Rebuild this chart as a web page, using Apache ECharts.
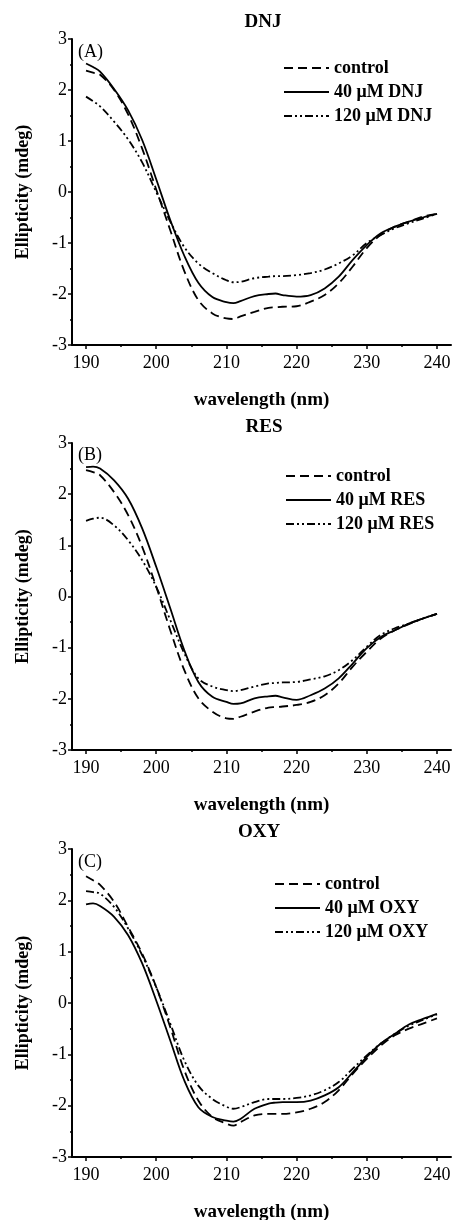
<!DOCTYPE html>
<html>
<head>
<meta charset="utf-8">
<script src="https://cdn.jsdelivr.net/npm/echarts@6/dist/echarts.min.js"></script>
<style>
html,body{margin:0;padding:0;background:#fff;}
#chart{width:452px;height:1220px;}
</style>
</head>
<body>
<div id="chart"></div>
<script>
// ---------- data ----------
const wavelength = [190,191,192,194,196,198,200,202,204,206,208,210,211,212,214,216,217,218,220,222,224,226,228,230,232,234,236,238,240];

const panelTitles = ['DNJ', 'RES', 'OXY'];
const panelLetters = ['(A)', '(B)', '(C)'];
const seriesNamesA = ['control', '40 \u03bcM DNJ', '120 \u03bcM DNJ'];
const seriesNamesB = ['control', '40 \u03bcM RES', '120 \u03bcM RES'];
const seriesNamesC = ['control', '40 \u03bcM OXY', '120 \u03bcM OXY'];

const xTickValues = [190,200,210,220,230,240];
const xMinorTickValues = [195,205,215,225,235];

// Panel A (DNJ)
const dnjControl = [2.38,2.34,2.30,2.00,1.52,0.85,0.05,-0.75,-1.55,-2.12,-2.38,-2.48,-2.49,-2.44,-2.35,-2.27,-2.26,-2.25,-2.24,-2.15,-2.02,-1.79,-1.46,-1.10,-0.84,-0.68,-0.58,-0.48,-0.43];
const dnj40 = [2.52,2.45,2.36,2.02,1.60,1.02,0.25,-0.55,-1.25,-1.78,-2.06,-2.16,-2.18,-2.14,-2.04,-2.00,-1.99,-2.02,-2.05,-2.02,-1.89,-1.66,-1.33,-1.04,-0.81,-0.68,-0.58,-0.50,-0.43];
const dnj120 = [1.87,1.78,1.68,1.38,1.03,0.58,0.00,-0.58,-1.08,-1.40,-1.59,-1.73,-1.77,-1.76,-1.69,-1.66,-1.65,-1.65,-1.63,-1.59,-1.52,-1.40,-1.24,-1.00,-0.84,-0.71,-0.61,-0.52,-0.43];

// Panel B (RES)
const resControl = [2.47,2.43,2.37,2.04,1.59,0.97,0.19,-0.66,-1.44,-1.99,-2.25,-2.38,-2.39,-2.35,-2.25,-2.17,-2.16,-2.15,-2.12,-2.06,-1.93,-1.70,-1.37,-1.08,-0.82,-0.66,-0.54,-0.43,-0.34];
const res40 = [2.53,2.54,2.50,2.27,1.91,1.33,0.58,-0.23,-1.05,-1.67,-1.96,-2.06,-2.10,-2.09,-1.99,-1.95,-1.94,-1.97,-2.02,-1.93,-1.80,-1.60,-1.31,-1.01,-0.79,-0.66,-0.53,-0.43,-0.34];
const res120 = [1.48,1.52,1.54,1.39,1.10,0.71,0.19,-0.46,-1.11,-1.60,-1.76,-1.83,-1.85,-1.83,-1.76,-1.70,-1.69,-1.68,-1.67,-1.62,-1.56,-1.44,-1.24,-0.98,-0.75,-0.62,-0.53,-0.43,-0.34];

// Panel C (OXY)
const oxyControl = [2.47,2.39,2.30,1.97,1.48,0.96,0.31,-0.47,-1.31,-1.90,-2.22,-2.35,-2.39,-2.32,-2.19,-2.16,-2.16,-2.16,-2.13,-2.06,-1.93,-1.70,-1.38,-1.09,-0.83,-0.63,-0.50,-0.40,-0.30];
const oxy40 = [1.92,1.94,1.89,1.68,1.32,0.77,0.05,-0.73,-1.51,-2.03,-2.22,-2.29,-2.31,-2.26,-2.06,-1.96,-1.94,-1.93,-1.93,-1.90,-1.80,-1.64,-1.35,-1.05,-0.79,-0.60,-0.42,-0.31,-0.21];
const oxy120 = [2.18,2.16,2.13,1.87,1.45,0.93,0.31,-0.40,-1.12,-1.61,-1.87,-2.02,-2.06,-2.03,-1.93,-1.87,-1.87,-1.87,-1.85,-1.80,-1.70,-1.54,-1.28,-1.02,-0.79,-0.60,-0.44,-0.33,-0.22];

// ---------- layout ----------
const FONT = "'Liberation Serif', 'Times New Roman', serif";
const panels = [
  { top: 39,  height: 306, names: seriesNamesA, data: [dnjControl, dnj40, dnj120],
    titleY: 22, titleX: 263, letterY: 52, legendLeft: 283, legendTop: 59 },
  { top: 443, height: 307, names: seriesNamesB, data: [resControl, res40, res120],
    titleY: 427, titleX: 264, letterY: 455, legendLeft: 285, legendTop: 467 },
  { top: 849, height: 308, names: seriesNamesC, data: [oxyControl, oxy40, oxy120],
    titleY: 832, titleX: 259, letterY: 862, legendLeft: 274, legendTop: 875 }
];
const lineTypes = [[9, 5], 'solid', [8, 3, 2, 3, 2, 3]];

function pairs(ys) { return wavelength.map((w, i) => [w, ys[i]]); }

const grid = [], xAxis = [], yAxis = [], series = [], legend = [], graphic = [];
panels.forEach((p, i) => {
  grid.push({ left: 72, width: 379, top: p.top, height: p.height, outerBoundsMode: 'none', containLabel: false });
  xAxis.push({
    type: 'value', gridIndex: i, min: 188, max: 242, position: 'bottom',
    name: 'wavelength (nm)', nameLocation: 'middle', nameGap: 46,
    nameTextStyle: { fontFamily: FONT, fontWeight: 'bold', fontSize: 19, color: '#000' },
    axisLine: { onZero: false, lineStyle: { color: '#000', width: 2 } },
    axisTick: { show: true, inside: false, length: 4, lineStyle: { color: '#000', width: 1.5 }, customValues: xTickValues },
    axisLabel: { fontFamily: FONT, fontSize: 18, color: '#000', margin: 9, customValues: xTickValues },
    splitLine: { show: false }
  });
  xAxis.push({
    type: 'value', gridIndex: i, min: 188, max: 242, position: 'bottom',
    axisLine: { show: false, onZero: false },
    axisTick: { show: true, inside: false, length: 2, lineStyle: { color: '#000', width: 1.5 }, customValues: xMinorTickValues },
    axisLabel: { show: false },
    splitLine: { show: false }
  });
  yAxis.push({
    type: 'value', gridIndex: i, min: -3, max: 3, interval: 1,
    name: 'Ellipticity (mdeg)', nameLocation: 'middle', nameGap: 40,
    nameTextStyle: { fontFamily: FONT, fontWeight: 'bold', fontSize: 18, color: '#000' },
    axisLine: { show: true, onZero: false, lineStyle: { color: '#000', width: 2 } },
    axisTick: { show: true, inside: false, length: 4, lineStyle: { color: '#000', width: 1.5 } },
    minorTick: { show: true, splitNumber: 2, length: 2, lineStyle: { color: '#000', width: 1.5 } },
    axisLabel: { fontFamily: FONT, fontSize: 18, color: '#000', margin: 5 },
    splitLine: { show: false }
  });
  p.names.forEach((name, k) => {
    series.push({
      type: 'line', name: name, xAxisIndex: i * 2, yAxisIndex: i,
      data: pairs(p.data[k]), smooth: 0.35, symbol: 'none', showSymbol: false,
      lineStyle: { color: '#000', width: 1.8, type: lineTypes[k] },
      itemStyle: { color: '#000' }, z: 3 - k
    });
  });
  legend.push({
    orient: 'vertical', left: p.legendLeft, top: p.legendTop,
    itemWidth: 45, itemHeight: 14, itemGap: 6, padding: 0,
    selectedMode: false,
    itemStyle: { opacity: 0 },
    textStyle: { fontFamily: FONT, fontWeight: 'bold', fontSize: 18, color: '#000' },
    data: p.names.map(n => ({ name: n }))
  });
  graphic.push({
    type: 'text', x: p.titleX, y: p.titleY,
    style: { text: panelTitles[i], fontFamily: FONT, fontWeight: 'bold', fontSize: 19, fill: '#000', align: 'center', verticalAlign: 'middle' }
  });
  graphic.push({
    type: 'text', x: 78, y: p.letterY,
    style: { text: panelLetters[i], fontFamily: FONT, fontSize: 18, fill: '#000', align: 'left', verticalAlign: 'middle' }
  });
});

const chart = echarts.init(document.getElementById('chart'), null, { renderer: 'canvas' });
chart.setOption({
  animation: false,
  backgroundColor: '#fff',
  grid, xAxis, yAxis, series, legend, graphic
});
</script>
</body>
</html>
